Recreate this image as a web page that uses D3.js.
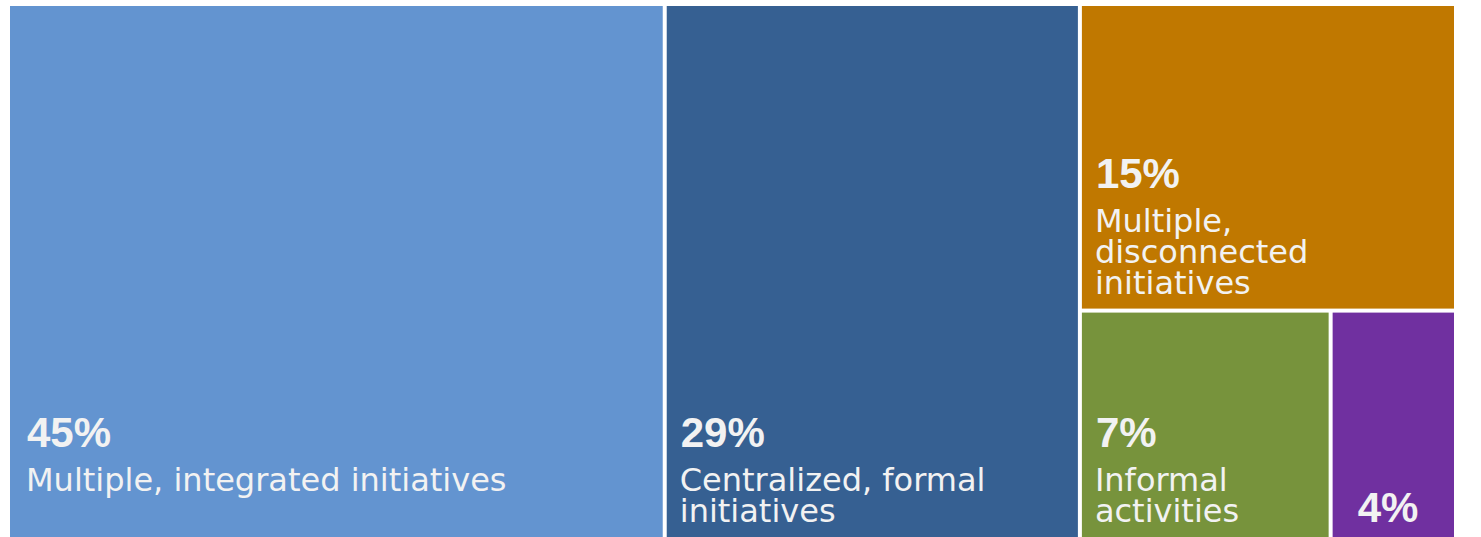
<!DOCTYPE html>
<html><head><meta charset="utf-8">
<script src="https://cdn.jsdelivr.net/npm/d3@7"></script>
<style>html,body{margin:0;padding:0;background:#fff;overflow:hidden} svg{display:block}</style>
</head><body><svg id="chart" width="1481" height="537"></svg>
<script>
// ---- data ----
const categories = ["Multiple, integrated initiatives", "Centralized, formal initiatives", "Multiple, disconnected initiatives", "Informal activities", ""];
const values = [45.4, 28.7, 14.9, 7.4, 3.7];
const pctLabels = ["45%", "29%", "15%", "7%", "4%"];
const colors = ["#6394d0", "#366092", "#c07800", "#77933c", "#7030a0"];

// ---- layout ----
const W = 1481, H = 537;
const margin = {left: 10, top: 6, right: 27, bottom: 0};
const innerW = W - margin.left - margin.right, innerH = H - margin.top - margin.bottom;

const leaf = i => ({index: i, value: values[i]});
const tree = {children: [leaf(0), leaf(1), {children: [leaf(2), {children: [leaf(3), leaf(4)]}]}]};
const root = d3.hierarchy(tree).sum(d => d.children ? 0 : d.value);
d3.treemap().tile(d3.treemapSliceDice).size([innerW, innerH]).paddingInner(4).round(false)(root);

const svg = d3.select("#chart");
const g = svg.append("g").attr("transform", `translate(${margin.left},${margin.top})`);

const cells = g.selectAll("g.cell").data(root.leaves()).join("g").attr("class", "cell");
cells.append("rect")
  .attr("x", d => d.x0).attr("y", d => d.y0)
  .attr("width", d => d.x1 - d.x0).attr("height", d => d.y1 - d.y0)
  .attr("fill", d => colors[d.data.index]);

const pctFont = "bold 42px 'Liberation Sans', Arial, sans-serif";
const catFontFamily = "'DejaVu Sans', Verdana, sans-serif";
const lineH = 31, pctGap = 44, padBottom = 15;

cells.each(function(d) {
  const sel = d3.select(this);
  const i = d.data.index;
  const padX = d.x0 < 1 ? 16 : 13;
  const maxW = d.x1 - d.x0 - 2 * 13;
  // wrap the category text to fit the cell width
  const measurer = sel.append("text").style("font-family", catFontFamily).style("font-size", "32px");
  const words = categories[i].split(" ").filter(Boolean);
  const lines = [];
  let cur = "";
  words.forEach(w => {
    const test = cur ? cur + " " + w : w;
    measurer.text(test);
    if (cur && measurer.node().getComputedTextLength() > maxW) { lines.push(cur); cur = w; }
    else cur = test;
  });
  if (cur) lines.push(cur);
  measurer.remove();

  const n = lines.length;
  const lastBase = d.y1 - padBottom;
  let pctBase, tx;
  if (n === 0) {
    pctBase = lastBase;
    tx = d.x0 + 24;
  } else {
    const reserved = Math.max(2, n);
    const firstBase = lastBase - (reserved - 1) * lineH;
    pctBase = firstBase - pctGap;
    tx = d.x0 + padX;
    sel.selectAll("text.cat").data(lines).join("text").attr("class", "cat")
      .attr("x", tx).attr("y", (l, k) => firstBase + k * lineH)
      .style("font-family", catFontFamily).style("font-size", "32px")
      .attr("fill", "#f2f2f2").text(l => l);
  }
  sel.append("text").attr("class", "pct")
    .attr("x", tx + 1).attr("y", pctBase)
    .style("font", pctFont).attr("fill", "#f2f2f2")
    .text(pctLabels[i]);
});
</script>
</body></html>
